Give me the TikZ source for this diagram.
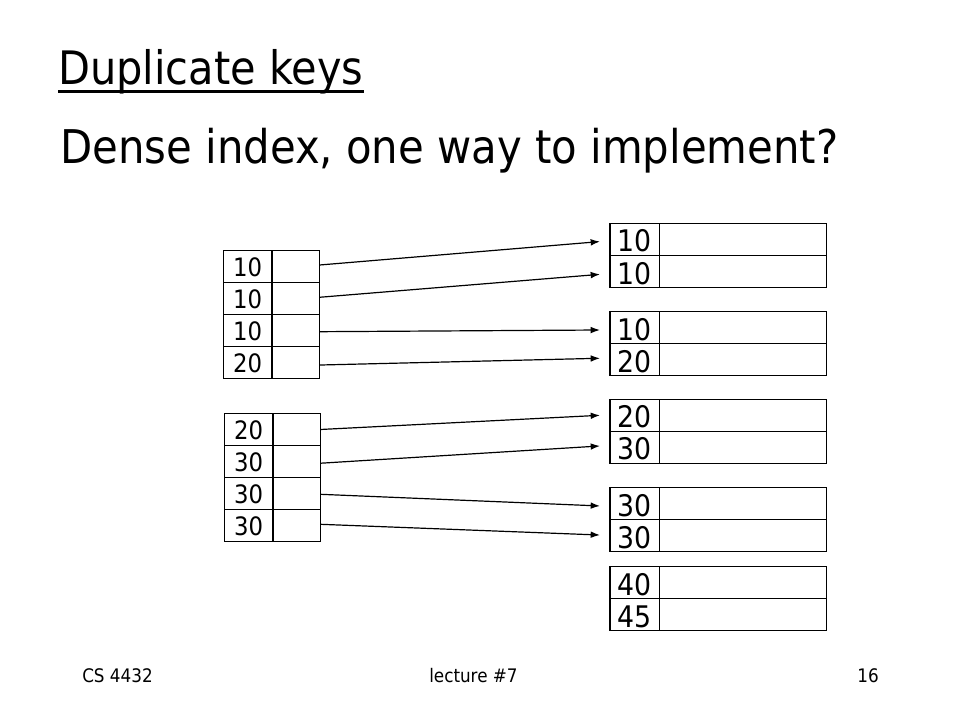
\documentclass[tikz,border=0pt]{standalone}
\usepackage{fontspec}
\setmainfont{DejaVu Sans Condensed}
\usetikzlibrary{arrows.meta}
\begin{document}
\begin{tikzpicture}[x=0.75pt,y=-0.75pt,
  cell/.style={draw=black, line width=1.1pt, rectangle, inner sep=0pt, outer sep=0pt, anchor=north west, minimum height=24pt},
  lkey/.style={cell, minimum width=36.5pt, font=\fontsize{19}{19}\selectfont, text height=15.3pt, text depth=0pt},
  lptr/.style={cell, minimum width=35.5pt},
  rkey/.style={cell, minimum width=37pt, font=\fontsize{22.3}{22}\selectfont, text height=19pt, text depth=0pt},
  rrec/.style={cell, minimum width=125.5pt},
  link/.style={line width=0.9pt, -{Latex[length=7pt,width=5pt]}},
  txt/.style={inner sep=0pt, anchor=base west},
  foot/.style={inner sep=0pt, font=\fontsize{14}{14}\selectfont}
]
\fill[white] (0,0) rectangle (960,720);
\useasboundingbox (0,0) rectangle (960,720);

% headings
\node[txt] (title) at (58,85) {\resizebox{228.75pt}{!}{Duplicate keys}};
\draw[line width=2pt] ([yshift=-4.7pt]title.base west) -- ([yshift=-4.7pt]title.base east);
\node[txt] (sub) at (60,164) {\resizebox{583.5pt}{!}{Dense index, one way to implement?}};

% left index box 1
\node[lkey] (a1) at (223.3,250.5) {10}; \node[lptr] (a1p) at (a1.north east) {};
\node[lkey] (a2) at (223.3,282.5) {10}; \node[lptr] (a2p) at (a2.north east) {};
\node[lkey] (a3) at (223.3,314.5) {10}; \node[lptr] (a3p) at (a3.north east) {};
\node[lkey] (a4) at (223.3,346.5) {20}; \node[lptr] (a4p) at (a4.north east) {};

% left index box 2
\node[lkey] (b1) at (224.3,413.5) {20}; \node[lptr] (b1p) at (b1.north east) {};
\node[lkey] (b2) at (224.3,445.5) {30}; \node[lptr] (b2p) at (b2.north east) {};
\node[lkey] (b3) at (224.3,477.5) {30}; \node[lptr] (b3p) at (b3.north east) {};
\node[lkey] (b4) at (224.3,509.5) {30}; \node[lptr] (b4p) at (b4.north east) {};

% data blocks
\node[rkey] (r1) at (610,223.3) {10}; \node[rrec] (r1r) at (r1.north east) {};
\node[rkey] (r2) at (610,255.4) {10}; \node[rrec] (r2r) at (r2.north east) {};
\node[rkey] (r3) at (610,311.6) {10}; \node[rrec] (r3r) at (r3.north east) {};
\node[rkey] (r4) at (610,343.6) {20}; \node[rrec] (r4r) at (r4.north east) {};
\node[rkey] (r5) at (610,399.3) {20}; \node[rrec] (r5r) at (r5.north east) {};
\node[rkey] (r6) at (610,431.3) {30}; \node[rrec] (r6r) at (r6.north east) {};
\node[rkey] (r7) at (610,487.7) {30}; \node[rrec] (r7r) at (r7.north east) {};
\node[rkey] (r8) at (610,519.7) {30}; \node[rrec] (r8r) at (r8.north east) {};
\node[rkey] (r9) at (610,566.7) {40}; \node[rrec] (r9r) at (r9.north east) {};
\node[rkey] (r10) at (610,598.7) {45}; \node[rrec] (r10r) at (r10.north east) {};

% pointers
\draw[link] ([yshift=1.1pt]a1p.east) -- ([xshift=-7.5pt,yshift=-1.7pt]r1.west);
\draw[link] ([yshift=0.9pt]a2p.east) -- ([xshift=-7.5pt,yshift=-2.2pt]r2.west);
\draw[link] ([yshift=-0.9pt]a3p.east) -- ([xshift=-7.5pt,yshift=-1.8pt]r3.west);
\draw[link] ([yshift=-1.9pt]a4p.east) -- ([xshift=-7.5pt,yshift=1pt]r4.west);
\draw[link] (b1p.east) -- ([xshift=-7.5pt]r5.west);
\draw[link] ([yshift=-1.3pt]b2p.east) -- ([xshift=-7.5pt,yshift=1pt]r6.west);
\draw[link] ([yshift=-0.6pt]b3p.east) -- ([xshift=-7.5pt,yshift=-1.7pt]r7.west);
\draw[link] ([yshift=0.9pt]b4p.east) -- ([xshift=-7.5pt,yshift=0.5pt]r8.west);

% footer
\node[foot, anchor=base west] (f1) at (82,682) {CS 4432};
\node[foot, anchor=base west] (f2) at (429,682) {lecture \#7};
\node[foot, anchor=base east] (f3) at (879,682) {16};
\end{tikzpicture}
\end{document}
